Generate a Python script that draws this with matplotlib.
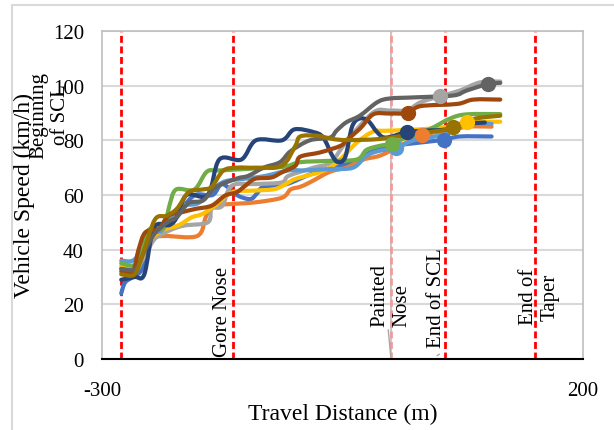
import matplotlib
matplotlib.use("Agg")
import matplotlib.pyplot as plt
from matplotlib.patches import Rectangle, PathPatch
from matplotlib.path import Path

plt.rcParams["font.family"] = ["Liberation Serif", "DejaVu Serif"]
plt.rcParams["axes.unicode_minus"] = False

# speed profiles (travel distance m, speed km/h)
blue_x = [-280, -276, -268, -258, -248, -240, -228, -217, -203, -185, -175, -160, -146, -139, -132, -108, -80, -39, -21, -1, 31, 55, 72, 105]
blue_y = [24, 28, 30, 33, 44, 47, 49, 55, 60, 60, 64, 60, 58.5, 60.5, 63, 64, 68, 72, 75.6, 77.8, 79.2, 80.2, 81.4, 81.4]

orange_x = [-280, -265, -258, -250, -235, -201, -192, -185, -165, -141, -113, -104, -94, -84, -63, -46, -28, -11, 10, 33, 60, 80, 105]
orange_y = [33, 34, 38, 44, 45, 45, 52, 56, 56.7, 57.3, 59, 62, 63, 64.6, 68.5, 70, 73, 74.4, 78, 82, 83.5, 85, 85]

lgray_x = [-280, -265, -255, -245, -230, -215, -190, -186, -175, -165, -140, -113, -106, -80, -62, -45, -18, -1, 17, 31, 51, 72, 93, 114]
lgray_y = [33, 33, 38, 44, 47, 48.8, 50, 55, 56, 63.4, 64, 64.6, 67, 70, 72, 80, 90.2, 90.9, 91, 93.9, 96.1, 98.2, 101.2, 101.5]

yellow_x = [-280, -262, -252, -241, -234, -220, -207, -196, -183, -165, -142, -120, -106, -98, -63, -35, -18, -5, 30, 60, 79, 114]
yellow_y = [34, 35, 42.7, 46.3, 47.6, 49, 51.8, 53, 56, 61, 61.6, 62.2, 64.6, 66, 70, 79.2, 83.2, 83.5, 84, 85, 86.6, 86.8]

lblue_x = [-280, -268, -258, -248, -238, -228, -218, -200, -185, -172, -150, -130, -106, -90, -63, -39, -25, -11, 6, 24, 58, 79, 105]
lblue_y = [36, 36, 40, 46, 47, 52, 56, 57, 62, 65, 66, 67, 69, 69, 69.5, 70, 74.4, 76.2, 77.1, 80, 82.3, 86, 86]

green_x = [-280, -262, -252, -236, -230, -223, -204, -191, -177, -125, -108, -94, -63, -35, -25, -11, 1, 13, 40, 62, 79, 114]
green_y = [35, 35, 47, 48, 56, 62, 62, 68.5, 69, 70, 70.5, 72, 72.5, 73, 76.5, 78, 78.7, 80.5, 84, 88, 89.5, 89.6]

dblue_x = [-280, -266, -256, -246, -230, -222, -212, -190, -178, -155, -140, -113, -100, -80, -70, -60, -54, -47, -40, -32, -23, -14, -5, 17, 34, 58, 79, 98]
dblue_y = [29, 30, 31, 48, 49, 52, 60, 60, 73, 73, 80, 80, 84, 83, 81, 74, 72, 74, 85, 88, 87, 83, 81, 83, 83.5, 84, 86, 86.5]

brown_x = [-280, -268, -262, -255, -241, -231, -217, -203, -186, -172, -160, -151, -141, -124, -113, -99, -94, -73, -52, -46, -32, -18, -1, 18, 31, 69, 86, 114]
brown_y = [32, 32, 40, 46.3, 47.6, 52.4, 53.7, 54.9, 56.1, 59.8, 61, 63.4, 65.9, 66.4, 68.3, 70.7, 74, 75.6, 78, 80, 84.2, 89.5, 89.8, 90, 92.5, 93.3, 94.9, 94.9]

dgray_x = [-280, -265, -255, -245, -232, -222, -210, -195, -182, -160, -148, -132, -115, -104, -84, -63, -56, -46, -32, -14, -1, 24, 65, 79, 101, 114]
dgray_y = [33, 33, 40, 46, 50, 52, 57, 58, 62.8, 66, 67, 70, 72, 76, 80, 81, 83.6, 86.6, 89, 93.9, 95.3, 95.7, 96.4, 98.2, 100.6, 101]

olive_x = [-280, -266, -257, -245, -233, -222, -210, -196, -186, -174, -160, -140, -113, -99, -94, -77, -60, -45, -11, 24, 51, 65, 86, 114]
olive_y = [31, 31, 39, 51, 52.4, 55, 61, 62, 63, 68.9, 70, 70, 70.7, 78, 81.4, 81.7, 80.5, 80.1, 80.5, 82.3, 83.5, 84.7, 87.8, 89]

# one marker per vehicle (same series order)
mark_x = [55, 33, 51, 79, 6, 1, 17, 18, 101, 65]
mark_y = [80.2, 82, 96.1, 86.6, 77.1, 78.7, 83, 90, 100.6, 84.7]

colors = ["#4472C4", "#ED7D31", "#A5A5A5", "#FFC000", "#5B9BD5",
          "#70AD47", "#264478", "#9E480E", "#636363", "#997300"]

# reference locations along the ramp
ref_x = [-280, -164, 57, 150]
nose_x = 0

series = [(blue_x, blue_y), (orange_x, orange_y), (lgray_x, lgray_y),
          (yellow_x, yellow_y), (lblue_x, lblue_y), (green_x, green_y),
          (dblue_x, dblue_y), (brown_x, brown_y), (dgray_x, dgray_y),
          (olive_x, olive_y)]


def smooth_path(xs, ys):
    """Excel-style 'smoothed line': cubic Bezier through the data points."""
    pts = list(zip(xs, ys))
    n = len(pts)
    verts = [pts[0]]
    codes = [Path.MOVETO]
    for i in range(n - 1):
        p0 = pts[max(i - 1, 0)]
        p1 = pts[i]
        p2 = pts[i + 1]
        p3 = pts[min(i + 2, n - 1)]
        c1 = (p1[0] + (p2[0] - p0[0]) / 6, p1[1] + (p2[1] - p0[1]) / 6)
        c2 = (p2[0] - (p3[0] - p1[0]) / 6, p2[1] - (p3[1] - p1[1]) / 6)
        verts += [c1, c2, p2]
        codes += [Path.CURVE4] * 3
    return Path(verts, codes)


fig = plt.figure(figsize=(6.14, 4.31), dpi=100)
ax = fig.add_axes([0.1661, 0.1647, 0.7834, 0.7611])

# chart frame
fig.patches.append(Rectangle((12 / 614, -0.1), 1.2, (431 - 6) / 431 + 0.1,
                             transform=fig.transFigure, fill=False,
                             edgecolor="#D9D9D9", linewidth=1.5))

for (xs, ys), c in zip(series, colors):
    ax.add_patch(PathPatch(smooth_path(xs, ys), fill=False, edgecolor=c,
                           lw=3, joinstyle="round", capstyle="round", zorder=3))
for mx, my, c in zip(mark_x, mark_y, colors):
    ax.plot([mx], [my], "o", color=c, ms=10, zorder=4)

for x in ref_x:
    ax.axvline(x, color="#FF0000", lw=2, dashes=(2.5, 1.3), zorder=2)
ax.axvline(nose_x, color="#BFBFBF", lw=1.2, zorder=2)
ax.axvline(nose_x, color="#F19C9C", lw=2, dashes=(2.5, 1.3), zorder=2)

fs = 15
ax.text(-354, 89.6, "Beginning\nof SCL", rotation=90, ha="center", va="center",
        fontsize=fs, clip_on=False, linespacing=1.2)
ax.text(-175, 1, "Gore Nose", rotation=90, ha="center", va="bottom", fontsize=fs)
ax.text(0.5, 12, "Painted\nNose", rotation=90, ha="center", va="bottom",
        fontsize=fs, multialignment="left", linespacing=1.2)
ax.text(48, 4.4, "End of SCL", rotation=90, ha="center", va="bottom", fontsize=fs)
ax.text(155, 23, "End of\nTaper", rotation=90, ha="center", va="center",
        fontsize=fs, linespacing=1.2)
ax.annotate("", xy=(0.4, 0), xytext=(-2.7, 11.7),
            arrowprops=dict(arrowstyle="-", color="#A6A6A6", lw=1))
ax.annotate("", xy=(53, 2.4), xytext=(46, 0.6),
            arrowprops=dict(arrowstyle="-", color="#A6A6A6", lw=1))

ax.set_xlim(-300, 200)
ax.set_ylim(0, 120)
ax.set_xticks([-300, 200])
ax.set_yticks(range(0, 121, 20))
ax.yaxis.grid(True, color="#D9D9D9", lw=1.5)
ax.set_axisbelow(True)
ax.tick_params(axis="both", length=0, labelsize=15)
ax.tick_params(axis="x", pad=16)
ax.tick_params(axis="y", pad=13)
for s in ["left", "top", "right"]:
    ax.spines[s].set_color("#BFBFBF")
    ax.spines[s].set_linewidth(1.2)
ax.spines["bottom"].set_color("black")
ax.spines["bottom"].set_linewidth(1.5)

ax.set_xlabel("Travel Distance (m)", fontsize=17, labelpad=2)
ax.set_ylabel("Vehicle Speed (km/h)", fontsize=17)
ax.yaxis.set_label_coords(-0.14, 0.5)

fig.savefig("out.png", dpi=100)
